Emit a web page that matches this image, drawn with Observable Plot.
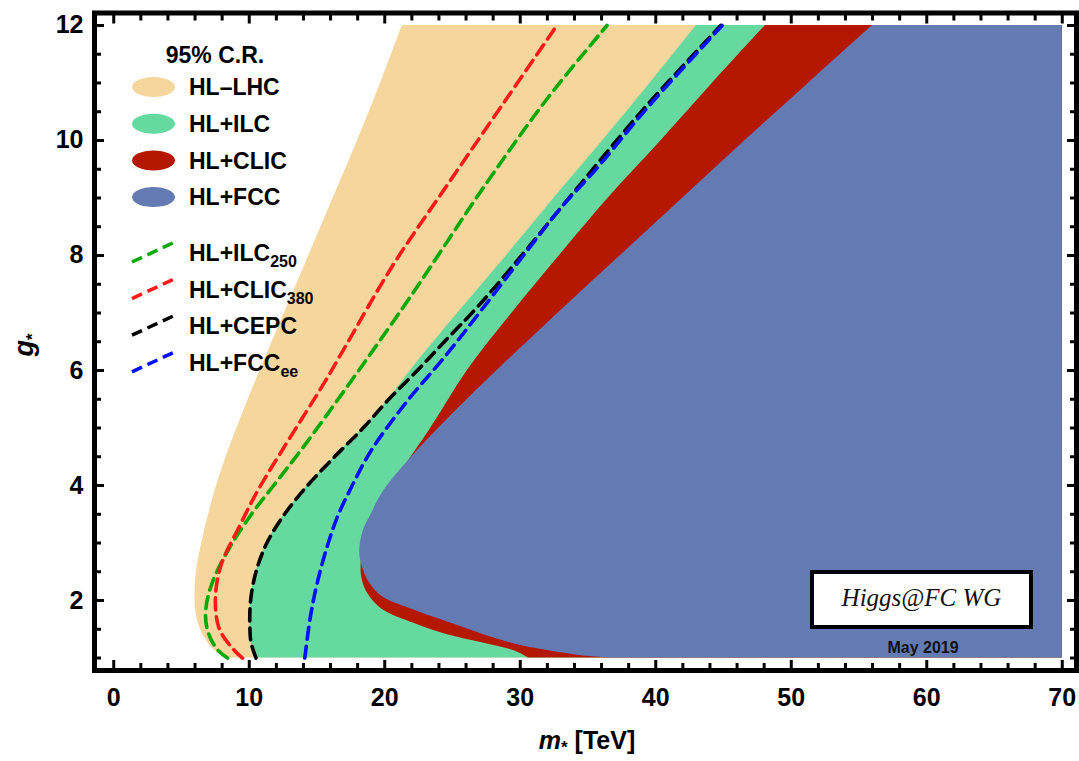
<!DOCTYPE html>
<html><head><meta charset="utf-8">
<script src="https://cdn.jsdelivr.net/npm/d3@7"></script>
<script src="https://cdn.jsdelivr.net/npm/@observablehq/plot@0.6"></script>
<style>
body{margin:0;background:#fff;}
#chart{width:1079px;height:761px;}
</style></head><body><div id="chart"></div>
<script>
// ---- data (m* in TeV as function of g*) ----
const mMax = 70;
const lhcG = [1.0, 1.1, 1.25, 1.5, 1.75, 2.0, 2.5, 3.0, 3.5, 4.0, 4.5, 5.0, 6.0, 7.0, 8.0, 9.0, 10.0, 11.0, 12.0];
const lhcX = [8.2, 7.6, 7.0, 6.4, 6.1, 6.0, 6.1, 6.5, 7.0, 7.6, 8.3, 9.1, 10.8, 12.6, 14.4, 16.2, 18.0, 19.7, 21.3];
const ilcG = [1.0, 1.25, 1.5, 2.0, 2.5, 3.0, 3.5, 4.0, 4.5, 5.0, 5.5, 6.0, 7.0, 8.0, 9.0, 10.0, 11.0, 12.0];
const ilcX = [10.5, 10.15, 10.05, 10.1, 10.5, 11.3, 12.6, 14.3, 16.3, 18.4, 20.3, 21.9, 25.4, 29.0, 32.5, 36.1, 39.6, 43.0];
const clicG = [1.0, 1.13, 1.27, 1.4, 1.6, 1.85, 2.1, 2.35, 2.6, 2.9, 3.2, 3.5, 3.76, 4.0, 5.0, 6.0, 7.0, 8.0, 9.0, 10.0, 11.0, 12.0];
const clicX = [30.6, 29.5, 27.1, 24.7, 22.2, 19.8, 18.8, 18.35, 18.25, 18.4, 18.7, 19.2, 19.8, 20.5, 23.4, 26.1, 29.4, 32.9, 36.5, 40.4, 44.2, 48.1];
const fccG = [1.0, 1.04, 1.13, 1.25, 1.42, 1.62, 1.83, 2.07, 2.3, 2.55, 2.84, 3.2, 3.5, 3.9, 4.5, 5.0, 5.5, 6.0, 7.0, 8.0, 9.0, 10.0, 11.0, 12.0];
const fccX = [36.6, 34.5, 32.0, 29.5, 27.1, 24.7, 22.2, 19.8, 18.9, 18.4, 18.15, 18.4, 19.0, 19.9, 22.0, 24.0, 26.1, 28.3, 32.8, 37.4, 42.0, 46.6, 51.3, 56.0];

const ilc250G = [1.0, 1.16, 1.5, 1.86, 2.33, 2.9, 3.48, 4.0, 4.64, 5.81, 7.25, 9.29, 10.73, 12.0];
const ilc250X = [8.4, 7.6, 6.9, 6.8, 7.3, 8.5, 10.1, 11.8, 13.9, 17.5, 21.8, 27.6, 32.0, 36.4];
const clic380G = [1.0, 1.16, 1.5, 2.0, 2.6, 3.3, 3.9, 4.64, 5.81, 6.42, 7.83, 9.29, 10.73, 12.0];
const clic380X = [9.5, 8.8, 7.8, 7.5, 7.9, 9.3, 10.6, 12.5, 15.6, 17.1, 20.6, 24.8, 29.0, 32.7];
const cepcG = [1.0, 1.25, 1.5, 2.0, 2.5, 3.0, 3.5, 4.0, 4.5, 5.0, 5.5, 6.0, 6.5, 7.12, 8.0, 9.0, 10.52, 12.0];
const cepcX = [10.5, 10.15, 10.05, 10.1, 10.5, 11.3, 12.6, 14.3, 16.3, 18.4, 20.3, 22.4, 24.4, 26.9, 30.1, 33.6, 39.0, 44.8];
const fccEeG = [1.0, 1.7, 2.29, 2.9, 3.45, 4.0, 4.61, 5.48, 6.23, 7.04, 8.14, 8.83, 9.53, 10.52, 12.0];
const fccEeX = [14.1, 14.5, 15.0, 15.7, 16.5, 17.6, 19.0, 21.7, 24.4, 27.1, 30.7, 33.0, 35.7, 39.2, 44.9];

const regionNames = ["HL\u2013LHC", "HL+ILC", "HL+CLIC", "HL+FCC"];
const regionColors = ["#F5D69C", "#66D9A1", "#B41800", "#637BB2"];
const lineNames = ["HL+ILC", "HL+CLIC", "HL+CEPC", "HL+FCC"];
const lineSubs = ["250", "380", "", "ee"];
const lineColors = ["#0AA80A", "#FF1A1A", "#000000", "#0010FF"];

const xMajor = [0, 10, 20, 30, 40, 50, 60, 70];
const xMinor = d3.range(0, 71, 2).filter(v => v % 10 !== 0);
const yMajor = [2, 4, 6, 8, 10, 12];
const yMinor = d3.range(1, 12.01, 0.5).filter(v => v % 2 !== 0);

// ---- build ----
const tbl = (gs, xs) => gs.map((g, i) => ({g, x: xs[i]}));
const regionData = [tbl(lhcG, lhcX), tbl(ilcG, ilcX), tbl(clicG, clicX), tbl(fccG, fccX)];
const lineData = [tbl(ilc250G, ilc250X), tbl(clic380G, clic380X), tbl(cepcG, cepcX), tbl(fccEeG, fccEeX)];
const FONT = "Liberation Sans, Arial, Helvetica, sans-serif";
const dash = "12,7";

const tickAxes = [];
for (const [anchor, fn] of [["bottom", Plot.axisX], ["top", Plot.axisX], ["left", Plot.axisY], ["right", Plot.axisY]]) {
  const isX = anchor === "bottom" || anchor === "top";
  tickAxes.push(fn(isX ? xMinor : yMinor, {anchor, tickSize: -7, strokeWidth: 3, fill: "none", label: null}));
  tickAxes.push(fn(isX ? xMajor : yMajor, {anchor, tickSize: -10, strokeWidth: 3, fill: "none", label: null}));
}

const plot = Plot.plot({
  width: 1079, height: 761,
  marginLeft: 94, marginRight: 3, marginTop: 12.5, marginBottom: 91,
  x: {domain: [-1.42, 71.05]},
  y: {domain: [0.783, 12.217]},
  style: {fontFamily: FONT, background: "#fff", color: "#000"},
  marks: [
    ...regionData.map((d, i) => Plot.areaX(d, {y: "g", x1: "x", x2: mMax, fill: regionColors[i], curve: "catmull-rom"})),
    ...lineData.map((d, i) => Plot.line(d, {x: "x", y: "g", stroke: lineColors[i], strokeWidth: 3.6, strokeDasharray: dash, curve: "catmull-rom"})),
    ...tickAxes,
    Plot.axisX(xMajor, {anchor: "bottom", tickSize: 0, tickPadding: 18, fontSize: 25, fontWeight: "bold", tickFormat: d => String(d), label: null}),
    Plot.axisY(yMajor, {anchor: "left", tickSize: 0, tickPadding: 11, fontSize: 25, fontWeight: "bold", tickFormat: d => String(d), label: null}),
    Plot.frame({strokeWidth: 5})
  ]
});
document.getElementById("chart").append(plot);

// ---- legend & annotations ----
const svg = d3.select(plot);
const leg = svg.append("g").attr("font-family", FONT).attr("font-weight", "bold").attr("fill", "#000").attr("text-anchor", "start");
leg.append("text").attr("x", 215).attr("y", 63).attr("text-anchor", "middle").attr("font-size", 23).text("95% C.R.");
regionNames.forEach((name, i) => {
  const cy = 87 + i * 36.7;
  leg.append("ellipse").attr("cx", 153.5).attr("cy", cy).attr("rx", 21.5).attr("ry", 10).attr("fill", regionColors[i]);
  leg.append("text").attr("x", 189).attr("y", cy + 8.3).attr("font-size", 23).attr("text-anchor", "start").text(name);
});
lineNames.forEach((name, i) => {
  const cy = 252 + i * 36.6;
  leg.append("line").attr("x1", 132).attr("y1", cy + 10).attr("x2", 175).attr("y2", cy - 10)
    .attr("stroke", lineColors[i]).attr("stroke-width", 3.5).attr("stroke-dasharray", "11,6");
  const t = leg.append("text").attr("x", 189).attr("y", cy + 9).attr("font-size", 23).attr("text-anchor", "start");
  t.append("tspan").text(name);
  if (lineSubs[i]) t.append("tspan").attr("font-size", 16).attr("dy", 6).text(lineSubs[i]);
});

// axis titles
const xt = svg.append("text").attr("x", 587).attr("y", 749).attr("text-anchor", "middle")
  .attr("font-family", FONT).attr("font-weight", "bold").attr("font-size", 25);
xt.append("tspan").attr("font-style", "italic").text("m");
xt.append("tspan").attr("font-size", 17).attr("dy", 4).text("*");
xt.append("tspan").attr("dy", -4).text(" [TeV]");
const yt = svg.append("text").attr("transform", "translate(33,345) rotate(-90)").attr("text-anchor", "middle")
  .attr("font-family", FONT).attr("font-weight", "bold").attr("font-size", 27);
yt.append("tspan").attr("font-style", "italic").text("g");
yt.append("tspan").attr("font-size", 17).attr("dy", 5).text("*");

// watermark box
svg.append("rect").attr("x", 812).attr("y", 572).attr("width", 219).attr("height", 55)
  .attr("fill", "#fff").attr("stroke", "#000").attr("stroke-width", 4);
svg.append("text").attr("x", 921.5).attr("y", 606).attr("text-anchor", "middle")
  .attr("font-family", "Liberation Serif, Times New Roman, serif").attr("font-style", "italic")
  .attr("font-size", 25).attr("fill", "#111").text("Higgs@FC WG");
svg.append("text").attr("x", 923).attr("y", 653).attr("text-anchor", "middle")
  .attr("font-family", FONT).attr("font-weight", "bold").attr("font-size", 16).attr("fill", "#111").text("May 2019");
</script></body></html>
